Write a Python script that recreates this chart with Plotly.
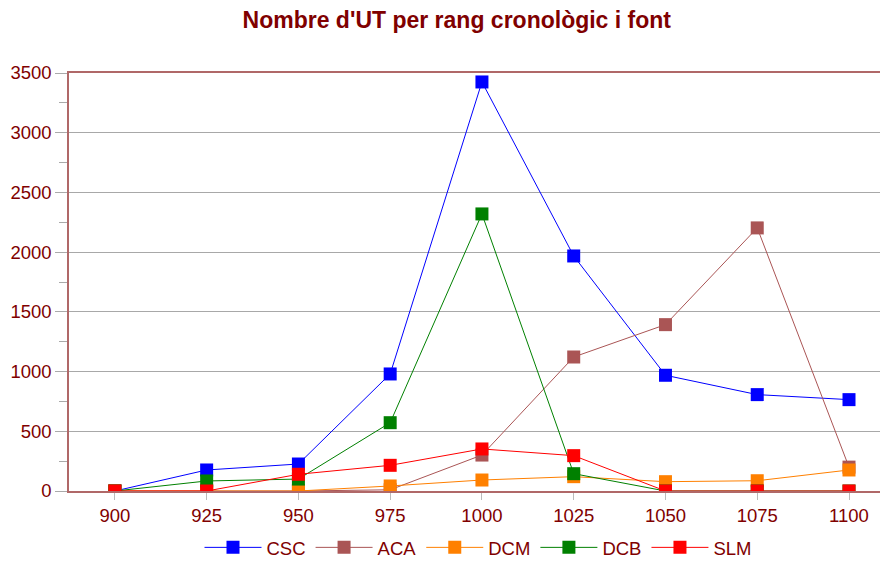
import plotly.graph_objects as go

categories = ["900", "925", "950", "975", "1000", "1025", "1050", "1075", "1100"]
csc = [0, 176, 226, 980, 3425, 1968, 969, 807, 765]
aca = [0, 0, 0, 10, 301, 1122, 1393, 2203, 200]
dcm = [0, 0, 0, 42, 92, 120, 78, 86, 176]
dcb = [0, 84, 100, 572, 2320, 145, 0, 0, 0]
slm = [0, 0, 140, 215, 352, 296, 0, 0, 0]

series = [
    ("CSC", csc, "#0000ff"),
    ("ACA", aca, "#aa5555"),
    ("DCM", dcm, "#ff8000"),
    ("DCB", dcb, "#008000"),
    ("SLM", slm, "#ff0000"),
]

fig = go.Figure()
for name, vals, col in series:
    fig.add_trace(go.Scatter(
        x=categories, y=vals, name=name, mode="lines+markers",
        line=dict(color=col, width=1),
        marker=dict(symbol="square", size=13, color=col),
    ))

dark_red = "#800000"
axis_col = "#b06868"
fig.update_layout(
    width=880, height=553,
    margin=dict(l=61, r=0, t=65, b=70, autoexpand=False),
    paper_bgcolor="white", plot_bgcolor="white",
    font=dict(family="Liberation Sans, Arial, sans-serif", size=18.5, color=dark_red),
    title=dict(text="<b>Nombre d'UT per rang cronològic i font</b>",
               x=0.51, xanchor="center", y=1 - 12 / 553, yanchor="middle",
               font=dict(size=23, color=dark_red)),
    showlegend=True,
    legend=dict(orientation="h", x=0.5, xanchor="center", y=-0.136, yanchor="middle",
                font=dict(size=18.5, color=dark_red), itemwidth=57),
)
fig.update_xaxes(
    type="category", range=[-0.5, 8.425], automargin=False,
    showline=True, linecolor=axis_col, linewidth=1.5, mirror=True,
    ticks="outside", ticklen=7, tickcolor="#bbbbbb",
    showgrid=False, tickfont=dict(size=18.5, color=dark_red),
)
fig.update_yaxes(
    range=[0, 3500], dtick=500, automargin=False,
    showline=True, linecolor=axis_col, linewidth=1.5,
    ticks="outside", ticklen=12, tickcolor="#aaaaaa",
    showgrid=True, gridcolor="#a8a8a8", gridwidth=1, zeroline=False,
    minor=dict(dtick=250, ticks="outside", ticklen=8, tickcolor="#aaaaaa", showgrid=False),
    tickfont=dict(size=18.5, color=dark_red),
)
fig.write_html("out.html")
